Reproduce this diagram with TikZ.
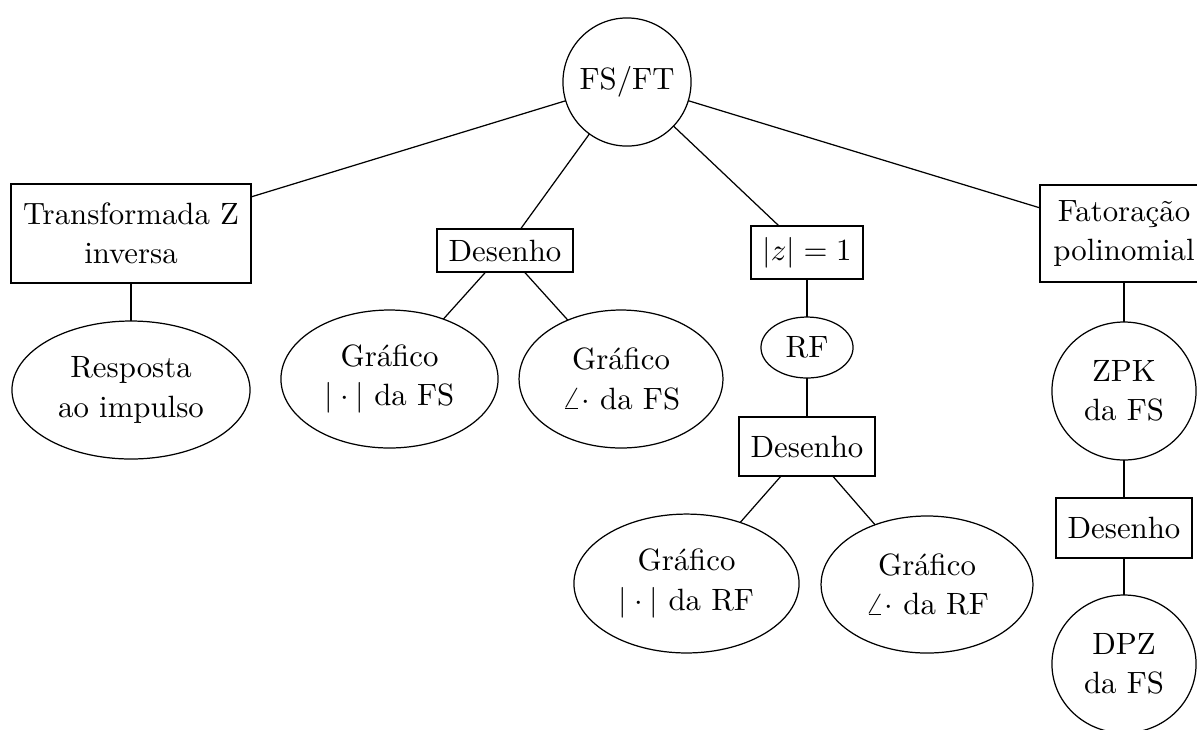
\documentclass[tikz,border=0pt]{standalone}
\usetikzlibrary{shapes.geometric}
\begin{document}
\begin{tikzpicture}[x=0.3247pt,y=-0.3247pt,
  every node/.style={inner sep=0pt, outer sep=0pt, align=center, font=\fontsize{10}{12.7}\selectfont},
  boxnode/.style={draw, rectangle},
  ellnode/.style={draw, ellipse},
  circnode/.style={draw, circle},
  link/.style={draw, line width=0.4pt}]
\useasboundingbox (0,0) rectangle (1197,729);
\clip (0,0) rectangle (1197,729);
% nodes
\node[circnode, minimum size=41.6pt] (root) at (627,82) {FS/FT};
\node[boxnode, minimum width=77.9pt, minimum height=32.1pt] (tz) at (131,233.5) {Transformada Z\\inversa};
\node[ellnode, minimum width=77.3pt, minimum height=44.8pt] (resp) at (131,390) {Resposta\\ao impulso};
\node[boxnode, minimum width=44.2pt, minimum height=14pt] (des1) at (505,250.5) {Desenho};
\node[ellnode, minimum width=70.5pt, minimum height=44.8pt] (gmagfs) at (389.5,379) {Gráfico\\$|\cdot|$ da FS};
\node[ellnode, minimum width=66.2pt, minimum height=44.8pt] (gangfs) at (621,379) {Gráfico\\$\angle\cdot$ da FS};
\node[boxnode, minimum width=36.4pt, minimum height=17.2pt] (z1) at (807,252.5) {$|z|=1$};
\node[ellnode, minimum width=29.9pt, minimum height=19.8pt] (rf) at (807,347.5) {RF};
\node[boxnode, minimum width=44.2pt, minimum height=19.2pt] (des2) at (807,446.5) {Desenho};
\node[ellnode, minimum width=73.1pt, minimum height=45.1pt] (gmagrf) at (686.5,583.5) {Gráfico\\$|\cdot|$ da RF};
\node[ellnode, minimum width=68.8pt, minimum height=44.5pt] (gangrf) at (927,584.5) {Gráfico\\$\angle\cdot$ da RF};
\node[boxnode, minimum width=54.5pt, minimum height=31.5pt] (fat) at (1124,233.5) {Fatoração\\polinomial};
\node[ellnode, minimum width=46.8pt, minimum height=44.8pt] (zpk) at (1124,391) {ZPK\\da FS};
\node[boxnode, minimum width=44.2pt, minimum height=19.5pt] (des3) at (1124,528) {Desenho};
\node[ellnode, minimum width=46.8pt, minimum height=44.8pt] (dpz) at (1124,664) {DPZ\\da FS};
% connectors
\draw[link] (root) -- (tz);
\draw[link] (root) -- (des1);
\draw[link] (root) -- (z1);
\draw[link] (root) -- (fat);
\draw[link] (tz) -- (resp);
\draw[link] (des1) -- (gmagfs);
\draw[link] (des1) -- (gangfs);
\draw[link] (z1) -- (rf);
\draw[link] (rf) -- (des2);
\draw[link] (des2) -- (gmagrf);
\draw[link] (des2) -- (gangrf);
\draw[link] (fat) -- (zpk);
\draw[link] (zpk) -- (des3);
\draw[link] (des3) -- (dpz);
\end{tikzpicture}
\end{document}
